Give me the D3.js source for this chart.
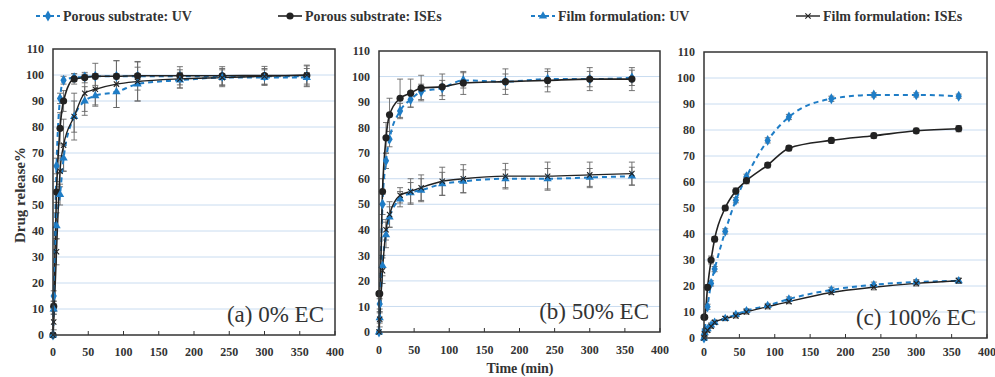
<!DOCTYPE html>
<html>
<head>
<meta charset="utf-8">
<script src="https://cdn.jsdelivr.net/npm/d3@7"></script>
<style>
body { margin: 0; background: #fff; }
svg { display: block; }
</style>
</head>
<body>
<div id="chart"></div>
<script>
// sampling times (min)
const times = [0, 1, 5, 10, 15, 30, 45, 60, 90, 120, 180, 240, 300, 360]
const xTicks = [0, 50, 100, 150, 200, 250, 300, 350, 400]
const yTicks = [0, 10, 20, 30, 40, 50, 60, 70, 80, 90, 100, 110]

// (a) 0% EC
const a_porousUV     = [0, 15, 65, 91, 98, 99, 99.3, 99.5, 99.5, 99.5, 99.5, 99.5, 99.5, 99.5]
const a_porousUV_sd  = [0, 2, 3, 2, 1.5, 1.5, 1, 1, 1, 1, 1, 1, 1, 1]
const a_porousISE    = [0, 11, 55, 79.5, 90, 98.5, 99, 99.5, 99.5, 99.7, 99.7, 99.7, 99.8, 99.8]
const a_porousISE_sd = [0, 2, 4, 6, 4, 2, 2, 5, 6, 5.5, 3.5, 3.5, 3.5, 4]
const a_filmUV       = [0, 10, 42, 54, 68, 84, 90, 92, 93.5, 96.5, 98, 99, 99, 99]
const a_filmUV_sd    = [0, 2, 5, 4, 5, 6, 5.5, 4, 6, 6.5, 3, 3.5, 3, 3.5]
const a_filmISE      = [0, 5, 32, 63, 73, 84, 93, 94.5, 96.5, 97.5, 98.5, 99, 99.5, 100]
const a_filmISE_sd   = [0, 3, 5, 6, 10, 9, 7, 6, 9, 7.5, 3.5, 3, 3, 3.5]

// (b) 50% EC
const b_porousUV     = [0, 11, 50, 67, 75.5, 86.5, 91, 94, 95.5, 98.5, 98, 99, 99, 99.5]
const b_porousUV_sd  = [0, 2, 4, 3, 3, 3, 3, 3, 3, 3, 3, 3, 3, 3]
const b_porousISE    = [15, 15, 55, 76, 85, 91.5, 93.5, 95.5, 96, 97.5, 98, 98.5, 99, 99]
const b_porousISE_sd = [0, 0, 5, 6, 6.5, 7.5, 5.5, 5, 5, 4.5, 5, 4.5, 4.5, 4.5]
const b_filmUV       = [0, 5.5, 26, 38, 45, 52, 54.5, 55.5, 58, 59, 60, 60, 60.5, 61]
const b_filmUV_sd    = [0, 2, 4, 5, 4, 3, 4, 4.5, 4.5, 4.5, 3.5, 4, 3.5, 3.5]
const b_filmISE      = [0, 5, 24, 40, 46, 53.5, 55, 56.5, 59, 60, 61, 61, 61.5, 62]
const b_filmISE_sd   = [0, 3, 5, 4, 5, 3, 5, 5, 5.5, 5.5, 5, 5.5, 5, 4.5]

// (c) 100% EC
const c_porousUV     = [0, 3, 12, 21, 26.5, 41, 53, 62, 76, 85, 92, 93.5, 93.5, 93]
const c_porousUV_sd  = [0, 0.5, 1, 1, 1, 1, 1, 1, 1, 1, 1, 0.8, 0.8, 0.8]
const c_porousISE    = [8, 8, 19.5, 30, 38, 50, 56.5, 60.5, 66.5, 73, 76, 77.8, 79.7, 80.5]
const c_porousISE_sd = [0, 0, 1, 1.5, 1, 1, 1.2, 1.2, 1, 1, 1, 1, 1, 1.2]
const c_filmUV       = [0, 2, 3.5, 5, 6, 7.5, 9, 10.5, 12.5, 15, 18.5, 20.5, 21.5, 22]
const c_filmUV_sd    = [0, 0.5, 0.8, 0.8, 0.8, 0.8, 0.8, 0.8, 0.8, 0.8, 1, 1, 1, 1]
const c_filmISE      = [0, 1.5, 3, 4.5, 6, 7.5, 8.5, 10, 12, 14, 17.5, 19.5, 21, 22]
const c_filmISE_sd   = [0, 0.5, 0.8, 0.8, 0.8, 0.8, 0.8, 0.8, 0.8, 0.8, 0.8, 1, 1, 1]

const seriesNames = ["Porous substrate: UV", "Porous substrate: ISEs", "Film formulation: UV", "Film formulation: ISEs"]
const panelLabels = ["(a) 0% EC", "(b) 50% EC", "(c) 100% EC"]

const BLUE = "#1f7dc6"
const INK = "#222"
const SERIF = "'Liberation Serif', 'DejaVu Serif', serif"

const styles = [
    {color: BLUE, dash: "5,4", width: 2, marker: "diamond"},
    {color: INK, dash: null, width: 1.6, marker: "circle"},
    {color: BLUE, dash: "5,4", width: 2, marker: "triangle"},
    {color: INK, dash: null, width: 1.4, marker: "cross"}
]

const panels = [
    {box: {left: 53, right: 335, bottom: 335, top: 49}, tickY: 352,
     series: [[a_porousUV, a_porousUV_sd], [a_porousISE, a_porousISE_sd], [a_filmUV, a_filmUV_sd], [a_filmISE, a_filmISE_sd]]},
    {box: {left: 379, right: 660, bottom: 332, top: 51}, tickY: 350,
     series: [[b_porousUV, b_porousUV_sd], [b_porousISE, b_porousISE_sd], [b_filmUV, b_filmUV_sd], [b_filmISE, b_filmISE_sd]]},
    {box: {left: 704, right: 987, bottom: 338, top: 52}, tickY: 352,
     series: [[c_porousUV, c_porousUV_sd], [c_porousISE, c_porousISE_sd], [c_filmUV, c_filmUV_sd], [c_filmISE, c_filmISE_sd]]}
]

const width = 995
const height = 377

const svg = d3.select("#chart")
    .append("svg")
    .attr("width", width)
    .attr("height", height)
    .attr("viewBox", [0, 0, width, height])

svg.append("rect").attr("width", width).attr("height", height).attr("fill", "#fff")

function drawMarker(g, kind, color) {
    if (kind === "circle") {
        g.append("circle").attr("r", 3.6).attr("fill", color)
    } else if (kind === "diamond") {
        g.append("path").attr("d", d3.symbol(d3.symbolDiamond, 34)()).attr("fill", color)
    } else if (kind === "triangle") {
        g.append("path").attr("d", d3.symbol(d3.symbolTriangle, 30)()).attr("fill", color)
    } else {
        g.append("path").attr("d", d3.symbol(d3.symbolX, 20)())
            .attr("fill", "none").attr("stroke", color).attr("stroke-width", 1.1)
    }
}

panels.forEach((p, pi) => {
    const b = p.box
    const x = d3.scaleLinear().domain([0, 400]).range([b.left, b.right])
    const y = d3.scaleLinear().domain([0, 110]).range([b.bottom, b.top])
    const layer = svg.append("g")

    // grid
    layer.append("g")
        .selectAll("line")
        .data(yTicks.filter(v => v > 0 && v < 110))
        .enter().append("line")
        .attr("x1", b.left).attr("x2", b.right)
        .attr("y1", d => y(d)).attr("y2", d => y(d))
        .attr("stroke", "#c9dcf0").attr("stroke-width", 1)

    // y labels
    layer.append("g")
        .selectAll("text")
        .data(yTicks)
        .enter().append("text")
        .attr("x", b.left - 9)
        .attr("y", d => y(d))
        .attr("dy", "0.35em")
        .attr("text-anchor", "end")
        .style("font-family", SERIF).style("font-weight", "bold")
        .style("font-size", "12px").attr("fill", "#333")
        .text(d => d)

    // x axis ticks + labels
    layer.append("g")
        .selectAll("line")
        .data(xTicks)
        .enter().append("line")
        .attr("x1", d => x(d)).attr("x2", d => x(d))
        .attr("y1", b.bottom).attr("y2", b.bottom - 4)
        .attr("stroke", "#333").attr("stroke-width", 1)
    layer.append("g")
        .selectAll("text")
        .data(xTicks)
        .enter().append("text")
        .attr("x", d => x(d))
        .attr("y", p.tickY)
        .attr("dy", "0.35em")
        .attr("text-anchor", "middle")
        .style("font-family", SERIF).style("font-weight", "bold")
        .style("font-size", "12px").attr("fill", "#333")
        .text(d => d)

    // error bars
    p.series.forEach(([vals, sd]) => {
        const eb = layer.append("g").attr("stroke", "#666").attr("stroke-width", 0.9)
        times.forEach((t, i) => {
            if (!sd[i]) return
            const cx = x(t)
            eb.append("line").attr("x1", cx).attr("x2", cx)
                .attr("y1", y(vals[i] - sd[i])).attr("y2", y(Math.min(vals[i] + sd[i], 110)))
            ;[vals[i] - sd[i], vals[i] + sd[i]].forEach(v => {
                if (v > 110) return
                eb.append("line").attr("x1", cx - 3).attr("x2", cx + 3)
                    .attr("y1", y(v)).attr("y2", y(v))
            })
        })
    })

    // lines
    const line = d3.line()
        .x((d, i) => x(times[i]))
        .y(d => y(d))
        .curve(d3.curveMonotoneX)
    p.series.forEach(([vals], si) => {
        const st = styles[si]
        layer.append("path")
            .datum(vals)
            .attr("d", line)
            .attr("fill", "none")
            .attr("stroke", st.color)
            .attr("stroke-width", st.width)
            .attr("stroke-dasharray", st.dash)
    })

    // markers
    p.series.forEach(([vals], si) => {
        const st = styles[si]
        const mg = layer.append("g")
        vals.forEach((v, i) => {
            const g = mg.append("g").attr("transform", `translate(${x(times[i])},${y(v)})`)
            drawMarker(g, st.marker, st.color)
        })
    })

    // frame
    layer.append("rect")
        .attr("x", b.left).attr("y", b.top)
        .attr("width", b.right - b.left).attr("height", b.bottom - b.top)
        .attr("fill", "none").attr("stroke", "#333").attr("stroke-width", 1.5)

    // panel label
    layer.append("text")
        .attr("x", b.right - 11)
        .attr("y", b.bottom - 13)
        .attr("text-anchor", "end")
        .style("font-family", SERIF).style("font-size", "23px")
        .attr("fill", "#333")
        .text(panelLabels[pi])
})

// axis titles
svg.append("text")
    .attr("transform", "translate(20,195) rotate(-90)")
    .attr("text-anchor", "middle")
    .attr("dy", "0.35em")
    .style("font-family", SERIF).style("font-weight", "bold").style("font-size", "15px")
    .attr("fill", "#333")
    .text("Drug release%")

svg.append("text")
    .attr("x", 520).attr("y", 368)
    .attr("text-anchor", "middle")
    .attr("dy", "0.35em")
    .style("font-family", SERIF).style("font-weight", "bold").style("font-size", "14px")
    .attr("fill", "#333")
    .text("Time (min)")

// legend
const legendX = [36, 278, 531, 796]
const legend = svg.append("g").attr("transform", "translate(0,16)")
seriesNames.forEach((name, i) => {
    const st = styles[i]
    const g = legend.append("g").attr("transform", `translate(${legendX[i]},0)`)
    g.append("line").attr("x1", 0).attr("x2", 24).attr("y1", 0).attr("y2", 0)
        .attr("stroke", st.color).attr("stroke-width", st.width)
        .attr("stroke-dasharray", st.dash ? "4,3" : null)
    const m = g.append("g").attr("transform", "translate(12,0)")
    drawMarker(m, st.marker, st.color)
    g.append("text")
        .attr("x", 27).attr("dy", "0.35em")
        .style("font-family", SERIF).style("font-weight", "bold").style("font-size", "14px")
        .attr("fill", "#333")
        .text(name)
})
</script>
</body>
</html>
